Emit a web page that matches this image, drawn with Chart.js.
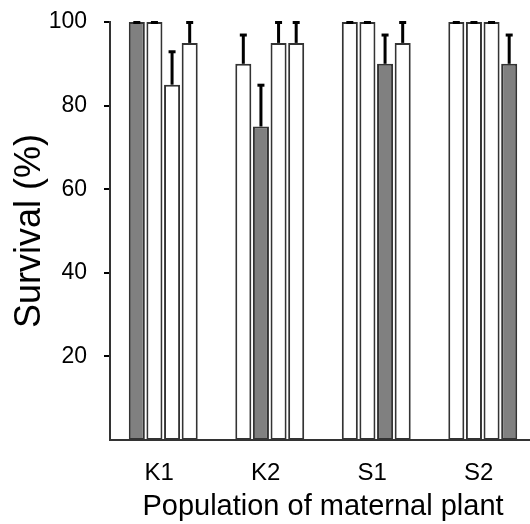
<!DOCTYPE html>
<html>
<head>
<meta charset="utf-8">
<script src="https://cdn.jsdelivr.net/npm/chart.js@4"></script>
<style>
  html, body { margin: 0; padding: 0; background: #fff; overflow: hidden; }
  #wrap { width: 530px; height: 524px; overflow: hidden; }
  canvas { display: block; }
</style>
</head>
<body>
<div id="wrap"><canvas id="survivalChart" width="536" height="524"></canvas></div>
<script>
// Population labels and tick values
const populations = ['K1', 'K2', 'S1', 'S2'];
const yTicks = [20, 40, 60, 80, 100];

// Survival (%) of the four bars in each group, with upper error
const survival1 = [100, 90, 100, 100];
const survival2 = [100, 75, 100, 100];
const survival3 = [85, 95, 90, 100];
const survival4 = [95, 95, 95, 90];
const error1 = [0, 7, 0, 0];
const error2 = [0, 10, 0, 0];
const error3 = [8, 5, 7, 0];
const error4 = [5, 5, 5, 7];

// which bar of each group is the shaded one
const shadedBar = [0, 1, 2, 3];

const fontFamily = '"Liberation Sans", Arial, sans-serif';
const GREY = '#808080';
const EDGE = '#333333';

const seriesValues = [survival1, survival2, survival3, survival4];
const seriesErrors = [error1, error2, error3, error4];

// Upward error bars with a flat cap
const errorBars = {
    id: 'errorBars',
    afterDatasetsDraw(chart) {
        const ctx = chart.ctx;
        const y = chart.scales.y;
        ctx.save();
        ctx.fillStyle = '#000';
        chart.data.datasets.forEach((ds, i) => {
            const meta = chart.getDatasetMeta(i);
            meta.data.forEach((bar, j) => {
                const top = y.getPixelForValue(ds.data[j] + ds.errors[j]);
                const base = bar.y;
                ctx.fillRect(bar.x - 1.5, top, 3, base - top);
                ctx.fillRect(bar.x - 3.5, top - 1, 7, 3);
            });
        });
        ctx.restore();
    }
};

new Chart(document.getElementById('survivalChart'), {
    type: 'bar',
    data: {
        labels: populations,
        datasets: seriesValues.map((values, i) => ({
            data: values,
            errors: seriesErrors[i],
            backgroundColor: populations.map((_, j) => shadedBar[j] === i ? GREY : '#ffffff'),
            borderColor: EDGE,
            borderWidth: 2,
            borderSkipped: false,
            categoryPercentage: 0.662,
            barPercentage: 0.91
        }))
    },
    options: {
        responsive: false,
        animation: false,
        layout: { padding: { top: 22, left: 0, right: 0, bottom: 0 } },
        plugins: {
            legend: { display: false },
            tooltip: { enabled: false }
        },
        scales: {
            x: {
                grid: { display: false },
                border: { display: true, color: EDGE, width: 2 },
                ticks: {
                    color: '#000',
                    font: { family: fontFamily, size: 24 },
                    padding: 11,
                    labelOffset: -4,
                    maxRotation: 0
                },
                title: {
                    display: true,
                    text: 'Population of maternal plant',
                    color: '#000',
                    font: { family: fontFamily, size: 29 },
                    padding: 0
                },
                afterFit(scale) {
                    scale.height = 84;
                    scale.paddingLeft = 0;
                    scale.paddingRight = 0;
                }
            },
            y: {
                min: 0,
                max: 100,
                afterBuildTicks(axis) { axis.ticks = yTicks.map(v => ({ value: v })); },
                grid: {
                    display: true,
                    drawOnChartArea: false,
                    drawTicks: true,
                    tickLength: 6,
                    tickColor: '#000',
                    lineWidth: 2
                },
                border: { display: true, color: EDGE, width: 2 },
                ticks: {
                    color: '#000',
                    font: { family: fontFamily, size: 23 },
                    padding: 17
                },
                title: {
                    display: true,
                    text: 'Survival (%)',
                    color: '#000',
                    font: { family: fontFamily, size: 36 },
                    padding: { top: 8, bottom: 0 }
                },
                afterFit(scale) {
                    scale.width = 110;
                    scale.paddingTop = 0;
                    scale.paddingBottom = 0;
                }
            }
        }
    },
    plugins: [errorBars]
});
</script>
</body>
</html>
